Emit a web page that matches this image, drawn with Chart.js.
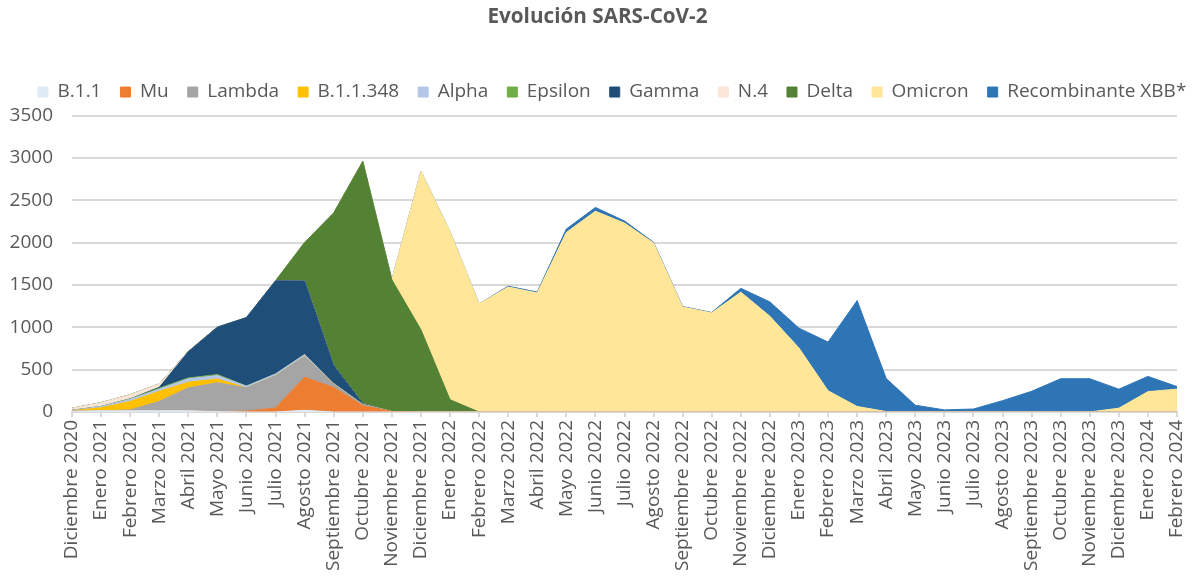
<!DOCTYPE html>
<html lang="es">
<head>
<meta charset="utf-8">
<title>Evolución SARS-CoV-2</title>
<script src="https://cdn.jsdelivr.net/npm/chart.js@4.4.1/dist/chart.umd.min.js"></script>
<style>
  html, body { margin: 0; padding: 0; background: #fff; }
</style>
</head>
<body>
<canvas id="variantes" width="1195" height="583"></canvas>
<script>
const meses = ['Diciembre 2020', 'Enero 2021', 'Febrero 2021', 'Marzo 2021', 'Abril 2021', 'Mayo 2021',
  'Junio 2021', 'Julio 2021', 'Agosto 2021', 'Septiembre 2021', 'Octubre 2021', 'Noviembre 2021',
  'Diciembre 2021', 'Enero 2022', 'Febrero 2022', 'Marzo 2022', 'Abril 2022', 'Mayo 2022', 'Junio 2022',
  'Julio 2022', 'Agosto 2022', 'Septiembre 2022', 'Octubre 2022', 'Noviembre 2022', 'Diciembre 2022',
  'Enero 2023', 'Febrero 2023', 'Marzo 2023', 'Abril 2023', 'Mayo 2023', 'Junio 2023', 'Julio 2023',
  'Agosto 2023', 'Septiembre 2023', 'Octubre 2023', 'Noviembre 2023', 'Diciembre 2023', 'Enero 2024',
  'Febrero 2024'];

// valores por variante
const b11 = [10, 15, 15, 15, 15, 5, 0, 0, 20, 0, 0, 0, 0, 0, 0, 0, 0, 0, 0, 0, 0, 0, 0, 0, 0, 0, 0, 0, 0, 0, 0, 0, 0, 0, 0, 0, 0, 0, 0];
const mu = [0, 0, 0, 0, 0, 0, 10, 47, 390, 290, 75, 5, 0, 0, 0, 0, 0, 0, 0, 0, 0, 0, 0, 0, 0, 0, 0, 0, 0, 0, 0, 0, 0, 0, 0, 0, 0, 0, 0];
const lambda = [0, 0, 10, 110, 270, 340, 275, 382, 248, 40, 10, 0, 0, 0, 0, 0, 0, 0, 0, 0, 0, 0, 0, 0, 0, 0, 0, 0, 0, 0, 0, 0, 0, 0, 0, 0, 0, 0, 0];
const b11348 = [5, 35, 100, 119, 67, 45, 0, 0, 0, 0, 0, 0, 0, 0, 0, 0, 0, 0, 0, 0, 0, 0, 0, 0, 0, 0, 0, 0, 0, 0, 0, 0, 0, 0, 0, 0, 0, 0, 0];
const alpha = [5, 15, 25, 25, 40, 40, 20, 20, 20, 5, 5, 0, 0, 0, 0, 0, 0, 0, 0, 0, 0, 0, 0, 0, 0, 0, 0, 0, 0, 0, 0, 0, 0, 0, 0, 0, 0, 0, 0];
const epsilon = [0, 0, 5, 12, 10, 12, 0, 0, 0, 0, 0, 0, 0, 0, 0, 0, 0, 0, 0, 0, 0, 0, 0, 0, 0, 0, 0, 0, 0, 0, 0, 0, 0, 0, 0, 0, 0, 0, 0];
const gamma = [0, 0, 0, 10, 310, 560, 810, 1100, 870, 215, 10, 0, 0, 0, 0, 0, 0, 0, 0, 0, 0, 0, 0, 0, 0, 0, 0, 0, 0, 0, 0, 0, 0, 0, 0, 0, 0, 0, 0];
const n4 = [25, 45, 50, 40, 5, 0, 0, 0, 0, 0, 0, 0, 0, 0, 0, 0, 0, 0, 0, 0, 0, 0, 0, 0, 0, 0, 0, 0, 0, 0, 0, 0, 0, 0, 0, 0, 0, 0, 0];
const delta = [0, 0, 0, 0, 0, 0, 0, 0, 453, 1800, 2858, 1556, 971, 145, 0, 0, 0, 0, 0, 0, 0, 0, 0, 0, 0, 0, 0, 0, 0, 0, 0, 0, 0, 0, 0, 0, 0, 0, 0];
const omicron = [0, 0, 0, 0, 0, 0, 0, 0, 0, 0, 0, 0, 1870, 1985, 1278, 1475, 1406, 2120, 2370, 2230, 1995, 1240, 1170, 1415, 1130, 755, 250, 65, 5, 0, 0, 0, 0, 0, 0, 0, 45, 240, 270];
const xbb = [0, 0, 0, 0, 0, 0, 0, 0, 0, 0, 0, 0, 0, 0, 0, 10, 10, 40, 45, 25, 8, 5, 5, 45, 170, 235, 575, 1250, 390, 80, 25, 35, 134, 244, 393, 393, 225, 180, 30];

const variantes = [
  ['B.1.1', b11, '#DDEBF7'],
  ['Mu', mu, '#ED7D31'],
  ['Lambda', lambda, '#A5A5A5'],
  ['B.1.1.348', b11348, '#FFC000'],
  ['Alpha', alpha, '#B4C7E7'],
  ['Epsilon', epsilon, '#70AD47'],
  ['Gamma', gamma, '#1F4E79'],
  ['N.4', n4, '#FBE5D6'],
  ['Delta', delta, '#548235'],
  ['Omicron', omicron, '#FFE699'],
  ['Recombinante XBB*', xbb, '#2E75B6'],
];

const fuente = 'Open Sans';
const gris = '#595959';
const rejilla = '#D9D9D9';

// leyenda en una sola fila, corrida a la derecha y con algo mas de espacio debajo
const legendSpace = {
  id: 'legendSpace',
  beforeInit(chart) {
    const fitOrig = chart.legend.fit;
    chart.legend.fit = function () {
      this.maxWidth += 60;
      fitOrig.call(this);
      this.maxWidth -= 60;
      this.height += 4;
    };
  },
  afterLayout(chart) {
    chart.legend.left += 19;
    chart.legend.right += 60;
    // titulo centrado en todo el lienzo
    chart.titleBlock.left += 9;
    chart.titleBlock.right += 9;
  }
};

new Chart(document.getElementById('variantes'), {
  type: 'line',
  data: {
    labels: meses,
    datasets: variantes.map(([nombre, valores, color], i) => ({
      label: nombre,
      data: valores,
      backgroundColor: color,
      borderColor: color,
      borderWidth: 1,
      pointRadius: 0,
      tension: 0,
      fill: i === 0 ? 'origin' : '-1',
    })),
  },
  options: {
    responsive: false,
    animation: false,
    layout: { padding: { left: 0, right: 18, top: 0, bottom: 0 } },
    plugins: {
      tooltip: { enabled: false },
      title: {
        display: true,
        text: 'Evolución SARS-CoV-2',
        color: gris,
        font: { family: fuente, size: 20.7, weight: 'bold' },
        padding: { top: 4.6, bottom: 34.1 },
      },
      legend: {
        position: 'top',
        align: 'start',
        labels: {
          color: gris,
          font: { family: fuente, size: 19 },
          boxWidth: 10,
          boxHeight: 10,
          padding: 19,
        },
      },
    },
    scales: {
      x: {
        grid: { drawOnChartArea: false, drawTicks: true, tickLength: 5, color: rejilla, lineWidth: 2 },
        border: { display: true, color: rejilla, width: 2 },
        ticks: {
          color: gris,
          font: { family: fuente, size: 19 },
          autoSkip: false,
          maxRotation: 90,
          minRotation: 90,
          padding: 3,
        },
        afterFit: (s) => { s.height = 171; s.paddingRight = 0; s.paddingLeft = 0; },
      },
      y: {
        stacked: true,
        min: 0,
        max: 3500,
        grid: { color: rejilla, lineWidth: 2, drawTicks: false },
        border: { display: false },
        ticks: {
          stepSize: 500,
          color: gris,
          font: { family: fuente, size: 19 },
          padding: 19,
          callback: (v) => String(v),
        },
        afterFit: (s) => { s.width = 72; },
      },
    },
  },
  plugins: [legendSpace],
});
</script>
</body>
</html>
